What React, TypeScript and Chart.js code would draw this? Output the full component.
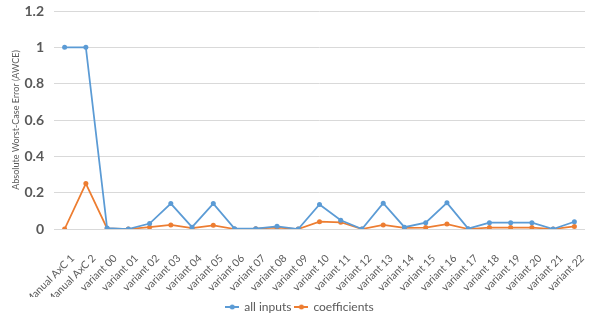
import React, { useEffect, useRef } from "react";
import { Chart, registerables } from "chart.js";

Chart.register(...registerables);

const categories = [
  "Manual AxC 1", "Manual AxC 2", "variant 00", "variant 01", "variant 02", "variant 03",
  "variant 04", "variant 05", "variant 06", "variant 07", "variant 08", "variant 09",
  "variant 10", "variant 11", "variant 12", "variant 13", "variant 14", "variant 15",
  "variant 16", "variant 17", "variant 18", "variant 19", "variant 20", "variant 21", "variant 22",
];

const allInputs = [
  1, 1, 0.005, 0, 0.03, 0.14, 0.01, 0.14, 0.002, 0.002, 0.015, 0,
  0.135, 0.048, 0, 0.142, 0.01, 0.035, 0.144, 0.002, 0.035, 0.035, 0.035, 0, 0.04,
];

const coefficients = [
  0, 0.25, 0.003, 0, 0.01, 0.022, 0.005, 0.02, 0, 0.002, 0.008, 0,
  0.04, 0.037, 0, 0.022, 0.006, 0.008, 0.027, 0, 0.008, 0.008, 0.008, 0, 0.014,
];

const yTicks = [0, 0.2, 0.4, 0.6, 0.8, 1, 1.2];

const BLUE = "#5B9BD5";
const ORANGE = "#ED7D31";
const FONT = "Lato, 'Open Sans', sans-serif";

function legendIcon(color: string) {
  const c = document.createElement("canvas");
  c.width = 14;
  c.height = 6;
  const ctx = c.getContext("2d")!;
  ctx.strokeStyle = color;
  ctx.lineWidth = 2;
  ctx.beginPath();
  ctx.moveTo(0, 3);
  ctx.lineTo(14, 3);
  ctx.stroke();
  ctx.fillStyle = color;
  ctx.beginPath();
  ctx.arc(7, 3, 2.5, 0, Math.PI * 2);
  ctx.fill();
  return c;
}

export default function App() {
  const ref = useRef<HTMLCanvasElement>(null);
  useEffect(() => {
    document.body.style.margin = "0";
    const icons = [legendIcon(BLUE), legendIcon(ORANGE)];
    const chart = new Chart(ref.current!, {
      type: "line",
      data: {
        labels: categories,
        datasets: [
          {
            label: "all inputs",
            data: allInputs,
            borderColor: BLUE,
            backgroundColor: BLUE,
            borderWidth: 1.75,
            pointRadius: 2.5,
            pointBorderWidth: 0,
            tension: 0,
          },
          {
            label: "coefficients",
            data: coefficients,
            borderColor: ORANGE,
            backgroundColor: ORANGE,
            borderWidth: 1.75,
            pointRadius: 2.5,
            pointBorderWidth: 0,
            tension: 0,
          },
        ],
      },
      options: {
        animation: false,
        responsive: false,
        layout: { padding: { left: 11, right: 0, top: 0, bottom: -5 } },
        plugins: {
          tooltip: { enabled: false },
          legend: {
            position: "bottom",
            labels: {
              usePointStyle: true,
              color: "#595959",
              font: { family: FONT, size: 12 },
              padding: 4,
              boxWidth: 14,
              generateLabels: (ch: any) =>
                ch.data.datasets.map((ds: any, i: number) => ({
                  text: ds.label,
                  fillStyle: ds.borderColor,
                  strokeStyle: ds.borderColor,
                  pointStyle: icons[i],
                  datasetIndex: i,
                  hidden: false,
                  lineWidth: 0,
                  fontColor: "#595959",
                })),
            },
          },
        },
        scales: {
          x: {
            offset: true,
            grid: { display: false },
            border: { display: false },
            afterFit: (scale: any) => {
              scale.height = 68;
              scale.paddingLeft = 0;
              scale.paddingRight = 0;
            },
            ticks: {
              color: "#595959",
              font: { family: FONT, size: 10.5 },
              maxRotation: 45,
              minRotation: 45,
              autoSkip: false,
              padding: 15,
              labelOffset: 8,
            },
          },
          y: {
            min: 0,
            max: 1.2,
            afterBuildTicks: (axis: any) => {
              axis.ticks = yTicks.map((v) => ({ value: v }));
            },
            afterFit: (scale: any) => {
              scale.width = 43;
              scale.paddingTop = 11;
              scale.paddingBottom = 0;
            },
            grid: { color: "#d9d9d9", lineWidth: 1, drawTicks: false },
            border: { display: false },
            ticks: {
              color: "#595959",
              font: { family: FONT, size: 14, weight: "bold" },
              padding: 10,
              callback: (v: any) => String(Math.round(Number(v) * 10) / 10),
            },
            title: {
              display: true,
              text: "Absolute Worst-Case Error (AWCE)",
              color: "#595959",
              font: { family: FONT, size: 9 },
              padding: { top: 0, bottom: 4 },
            },
          },
        },
      },
    } as any);
    return () => chart.destroy();
  }, []);
  return (
    <div style={{ width: 589, height: 318 }}>
      <canvas ref={ref} width={589} height={318} />
    </div>
  );
}
